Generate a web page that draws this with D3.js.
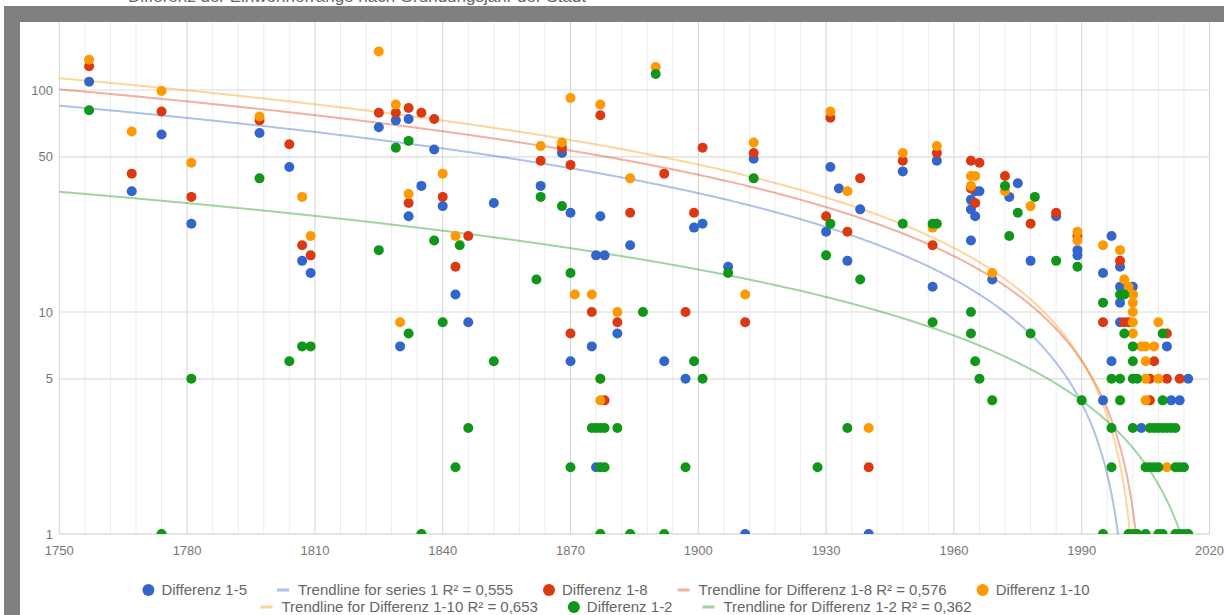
<!DOCTYPE html>
<html>
<head>
<meta charset="utf-8">
<script src="https://cdn.jsdelivr.net/npm/d3@7"></script>
<style>
  body { margin: 0; background: #fff; }
  svg { display: block; font-family: Arial, 'Liberation Sans', sans-serif; }
</style>
</head>
<body>
<svg id="chart" width="1224" height="615"></svg>
<script>
// series values as [year, difference]
var diff15 = [
    [1757,109],[1767,35],[1774,63],[1781,25],[1797,64],[1804,45],[1807,17],[1809,15],
    [1825,68],[1829,73],[1830,7],[1832,74],[1832,27],[1835,37],[1838,54],[1840,30],[1843,12],[1846,9],[1852,31],
    [1863,37],[1868,52],[1870,28],[1870,6],[1875,7],[1876,18],[1876,2],[1877,27],[1878,18],[1881,8],[1884,20],
    [1892,6],[1897,5],[1899,24],[1901,25],[1907,16],[1911,1],[1913,49],
    [1930,23],[1931,45],[1933,36],[1935,17],[1938,29],[1940,1],
    [1948,43],[1955,13],[1956,48],[1964,32],[1964,29],[1964,21],[1965,35],[1965,27],[1966,35],[1969,14],
    [1973,33],[1975,38],[1978,17],[1984,27],
    [1989,19],[1989,18],[1995,15],[1995,4],[1997,22],[1997,6],[1999,16],[1999,13],[1999,11],[1999,9],
    [2002,13],[2004,3],[2010,7],[2011,4],[2013,4],[2015,5]
];
var diff18 = [
    [1757,128],[1767,42],[1774,80],[1781,33],[1797,73],[1804,57],[1807,20],[1809,18],
    [1825,79],[1829,79],[1832,83],[1832,31],[1835,79],[1838,74],[1840,33],[1843,16],[1846,22],
    [1863,48],[1868,55],[1870,46],[1870,8],[1875,10],[1877,77],[1878,4],[1881,9],[1884,28],
    [1892,42],[1897,10],[1899,28],[1901,55],[1911,9],[1913,52],
    [1930,27],[1931,75],[1935,23],[1938,40],[1940,2],
    [1948,48],[1955,20],[1956,52],[1964,48],[1964,36],[1965,31],[1966,47],[1972,41],[1978,25],[1984,28],
    [1989,22],[1995,9],[1999,17],[2000,9],[2001,9],[2002,12],[2006,5],[2006,4],[2007,6],[2010,8],[2010,5],[2013,5]
];
var diff110 = [
    [1757,137],[1767,65],[1774,99],[1781,47],[1797,76],[1807,33],[1809,22],
    [1825,149],[1829,86],[1830,9],[1832,34],[1840,42],[1843,22],
    [1863,56],[1868,58],[1870,92],[1871,12],[1875,12],[1877,86],[1877,5],[1877,4],[1881,10],[1884,40],[1890,127],
    [1911,12],[1913,58],[1931,80],[1935,35],[1940,3],
    [1948,52],[1955,24],[1956,56],[1964,41],[1964,37],[1965,41],[1969,15],[1972,35],[1978,30],
    [1989,23],[1989,21],[1995,20],[1999,19],[2000,14],[2001,13],[2002,12],[2002,11],[2002,10],[2002,9],[2002,8],
    [2004,7],[2005,7],[2007,7],[2005,6],[2005,5],[2008,5],[2005,4],[2008,9],[2010,2]
];
var diff12 = [
    [1757,81],[1774,1],[1781,5],[1797,40],[1804,6],[1807,7],[1809,7],
    [1825,19],[1829,55],[1832,59],[1832,8],[1835,1],[1838,21],[1840,9],[1843,2],[1844,20],[1846,3],[1852,6],
    [1862,14],[1863,33],[1868,30],[1870,15],[1870,2],[1875,3],[1876,3],[1877,3],[1877,5],[1877,2],[1878,2],
    [1877,1],[1878,3],[1881,3],[1884,1],[1887,10],[1890,118],[1892,1],[1897,2],[1899,6],[1901,5],[1907,15],[1913,40],
    [1928,2],[1930,18],[1931,25],[1935,3],[1938,14],
    [1948,25],[1955,25],[1955,9],[1956,25],[1964,10],[1964,8],[1965,6],[1966,5],[1969,4],
    [1972,37],[1973,22],[1975,28],[1978,8],[1979,33],[1984,17],
    [1989,16],[1990,4],[1995,11],[1995,1],[1997,5],[1997,3],[1997,2],[1999,12],[1999,5],[1999,4],[2000,12],[2000,8],
    [2001,1],[2002,7],[2002,6],[2002,5],[2002,3],[2002,1],[2003,5],[2003,1],[2005,2],[2005,1],
    [2006,3],[2006,2],[2007,3],[2007,2],[2008,3],[2008,2],[2008,1],[2009,8],[2009,4],[2009,3],[2009,1],
    [2010,3],[2011,3],[2012,3],[2012,2],[2012,1],[2013,2],[2013,1],[2014,2],[2014,1],[2015,1]
];

var seriesNames = ['Differenz 1-5', 'Differenz 1-8', 'Differenz 1-10', 'Differenz 1-2'];
var trendNames = ['Trendline for series 1 R\u00b2 = 0,555', 'Trendline for Differenz 1-8 R\u00b2 = 0,576',
                  'Trendline for Differenz 1-10 R\u00b2 = 0,653', 'Trendline for Differenz 1-2 R\u00b2 = 0,362'];
// linear trendlines: value at 1750 and slope per year
var trendAt1750 = [85, 100.7, 113, 34.8];
var trendSlope = [-0.338, -0.3945, -0.4456, -0.1284];

var xTicks = [1750, 1780, 1810, 1840, 1870, 1900, 1930, 1960, 1990, 2020];
var yTicks = [1, 5, 10, 50, 100];

var colors = ['#3366cc', '#dc3912', '#ff9900', '#109618'];
var allSeries = [diff15, diff18, diff110, diff12];

var svg = d3.select('#chart');

// frame
svg.append('rect').attr('x', 4).attr('y', 6).attr('width', 1220).attr('height', 609).attr('fill', '#808080');
svg.append('rect').attr('x', 20).attr('y', 22).attr('width', 1204).attr('height', 593).attr('fill', '#fff');
// title, mostly hidden behind the frame
svg.append('text')
    .attr('x', 128).attr('y', 1.5)
    .style('font-size', '17px').style('fill', '#666')
    .text('Differenz der Einwohnerränge nach Gründungsjahr der Stadt');

var plot = {l: 59.3, r: 1209.5, t: 22, b: 534};

var x = d3.scaleLinear().domain([1750, 2020]).range([plot.l, plot.r]);
var y = d3.scaleLog().domain([1, 202.5]).range([plot.b, plot.t]);

svg.append('clipPath').attr('id', 'plotClip')
    .append('rect')
    .attr('x', plot.l).attr('y', plot.t)
    .attr('width', plot.r - plot.l).attr('height', plot.b - plot.t);

// vertical gridlines every 6 years, darker every 30
var grid = svg.append('g');
grid.selectAll('.vminor')
    .data(d3.range(1750, 2021, 6))
    .enter().append('line')
    .attr('x1', d => x(d)).attr('x2', d => x(d))
    .attr('y1', plot.t).attr('y2', plot.b)
    .attr('stroke', d => (d - 1750) % 30 === 0 ? '#d4d4d4' : '#ececec')
    .attr('stroke-width', 1);

grid.selectAll('.hgrid')
    .data(yTicks)
    .enter().append('line')
    .attr('x1', plot.l).attr('x2', plot.r)
    .attr('y1', d => y(d)).attr('y2', d => y(d))
    .attr('stroke', d => d === 1 ? '#cccccc' : '#dcdcdc')
    .attr('stroke-width', 1.2);

// axis labels
svg.append('g').selectAll('text')
    .data(yTicks)
    .enter().append('text')
    .attr('x', 53)
    .attr('y', d => y(d))
    .attr('dy', '0.35em')
    .attr('text-anchor', 'end')
    .style('font-size', '13px')
    .style('fill', '#777')
    .text(d => d);

svg.append('g').selectAll('text')
    .data(xTicks)
    .enter().append('text')
    .attr('x', d => x(d))
    .attr('y', 555)
    .attr('text-anchor', 'middle')
    .style('font-size', '13px')
    .style('fill', '#777')
    .text(d => d);

var inner = svg.append('g').attr('clip-path', 'url(#plotClip)');

// trendlines
var trendLine = d3.line().x(d => x(d[0])).y(d => y(d[1]));
trendAt1750.forEach(function(a, i) {
    var pts = [];
    for (var yr = 1750; yr <= 2020; yr += 0.25) {
        var v = a + trendSlope[i] * (yr - 1750);
        if (v < 0.4) break;
        pts.push([yr, v]);
    }
    inner.append('path')
        .attr('d', trendLine(pts))
        .attr('fill', 'none')
        .attr('stroke', colors[i])
        .attr('stroke-opacity', 0.4)
        .attr('stroke-width', 2);
});

// points
allSeries.forEach(function(series, i) {
    inner.append('g').selectAll('circle')
        .data(series)
        .enter().append('circle')
        .attr('cx', d => x(d[0]))
        .attr('cy', d => y(d[1]))
        .attr('r', 5)
        .attr('fill', colors[i]);
});

// legend, two centred rows
var legendRows = [
    [{t: 's', i: 0}, {t: 'l', i: 0}, {t: 's', i: 1}, {t: 'l', i: 1}, {t: 's', i: 2}],
    [{t: 'l', i: 2}, {t: 's', i: 3}, {t: 'l', i: 3}]
];
var legendY = [590, 607];
var legendCenter = 616;

legendRows.forEach(function(row, r) {
    var g = svg.append('g');
    var cursor = 0;
    row.forEach(function(item, k) {
        if (k > 0) cursor += 30;
        if (item.t === 's') {
            g.append('circle').attr('cx', cursor + 6).attr('cy', legendY[r]).attr('r', 6).attr('fill', colors[item.i]);
            cursor += 19;
        } else {
            g.append('line')
                .attr('x1', cursor).attr('x2', cursor + 12)
                .attr('y1', legendY[r]).attr('y2', legendY[r])
                .attr('stroke', colors[item.i]).attr('stroke-opacity', 0.4).attr('stroke-width', 3);
            cursor += 21;
        }
        var txt = g.append('text')
            .attr('x', cursor).attr('y', legendY[r])
            .attr('dy', '0.35em')
            .style('font-size', '15px')
            .style('fill', '#666')
            .text(item.t === 's' ? seriesNames[item.i] : trendNames[item.i]);
        cursor += txt.node().getComputedTextLength();
    });
    g.attr('transform', 'translate(' + (legendCenter - cursor / 2) + ',0)');
});
</script>
</body>
</html>
